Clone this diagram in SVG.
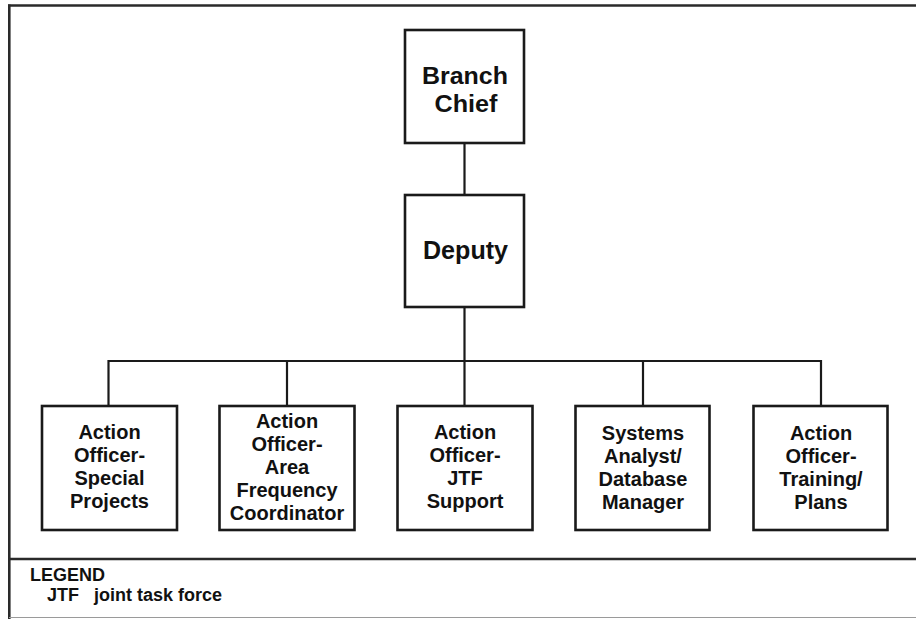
<svg xmlns="http://www.w3.org/2000/svg" width="916" height="619" viewBox="0 0 916 619">
<style>
.box{fill:#fff;stroke:#1a1a1a;stroke-width:2.6}
.t{font-family:"Liberation Sans",Arial,sans-serif;font-weight:bold;font-size:20px;fill:#111;text-anchor:middle}
.big{font-size:26px}
.bc{font-size:24.5px}
.leg{font-family:"Liberation Sans",Arial,sans-serif;font-weight:bold;font-size:18px;fill:#111}
.conn{fill:none;stroke:#1a1a1a;stroke-width:2.2}
</style>
<rect width="916" height="619" fill="#fff"/>
<g id="frame">
<line x1="8" y1="5.5" x2="916" y2="5.5" stroke="#2a2a2a" stroke-width="2.6"/>
<line x1="9.3" y1="4.5" x2="9.3" y2="619" stroke="#2a2a2a" stroke-width="2.6"/>
<line x1="9" y1="559" x2="916" y2="559" stroke="#2a2a2a" stroke-width="2.6"/>
<line x1="9" y1="617.5" x2="916" y2="617.5" stroke="#9a9a9a" stroke-width="1.2"/>
</g>
<g id="connectors">
<line class="conn" x1="464.5" y1="143" x2="464.5" y2="194"/>
<line class="conn" x1="464.5" y1="308" x2="464.5" y2="361"/>
<polyline class="conn" points="108.5,406 108.5,361 821,361 821,406"/>
<line class="conn" x1="287" y1="361" x2="287" y2="406"/>
<line class="conn" x1="643" y1="361" x2="643" y2="406"/>
<line class="conn" x1="464.5" y1="361" x2="464.5" y2="406"/>
</g>
<g id="branch-chief">
<rect class="box" x="405" y="30" width="119" height="113"/>
<text class="t bc" x="465" y="84" textLength="86" lengthAdjust="spacingAndGlyphs">Branch</text>
<text class="t bc" x="466" y="111.5" textLength="63" lengthAdjust="spacingAndGlyphs">Chief</text>
</g>
<g id="deputy">
<rect class="box" x="405" y="195" width="119" height="112"/>
<text class="t big" x="465.5" y="259" textLength="85" lengthAdjust="spacingAndGlyphs">Deputy</text>
</g>
<g id="ao-special-projects">
<rect class="box" x="42" y="406" width="135" height="124"/>
<text class="t" x="109.5" y="439">Action</text>
<text class="t" x="109.5" y="462">Officer-</text>
<text class="t" x="109.5" y="485">Special</text>
<text class="t" x="109.5" y="508">Projects</text>
</g>
<g id="ao-area-frequency">
<rect class="box" x="219.5" y="406" width="135" height="124"/>
<text class="t" x="287" y="428">Action</text>
<text class="t" x="287" y="451">Officer-</text>
<text class="t" x="287" y="474">Area</text>
<text class="t" x="287" y="497">Frequency</text>
<text class="t" x="287" y="520">Coordinator</text>
</g>
<g id="ao-jtf-support">
<rect class="box" x="397.5" y="406" width="135" height="124"/>
<text class="t" x="465" y="439">Action</text>
<text class="t" x="465" y="462">Officer-</text>
<text class="t" x="465" y="485">JTF</text>
<text class="t" x="465" y="508">Support</text>
</g>
<g id="systems-analyst">
<rect class="box" x="575.5" y="406" width="134" height="124"/>
<text class="t" x="643" y="440">Systems</text>
<text class="t" x="643" y="463">Analyst/</text>
<text class="t" x="643" y="486">Database</text>
<text class="t" x="643" y="509">Manager</text>
</g>
<g id="ao-training-plans">
<rect class="box" x="753.5" y="406" width="134" height="124"/>
<text class="t" x="821" y="440">Action</text>
<text class="t" x="821" y="463">Officer-</text>
<text class="t" x="821" y="486">Training/</text>
<text class="t" x="821" y="509">Plans</text>
</g>
<g id="legend">
<text class="leg" x="30" y="581">LEGEND</text>
<text class="leg" x="47" y="601">JTF</text>
<text class="leg" x="94" y="601">joint task force</text>
</g>
</svg>
